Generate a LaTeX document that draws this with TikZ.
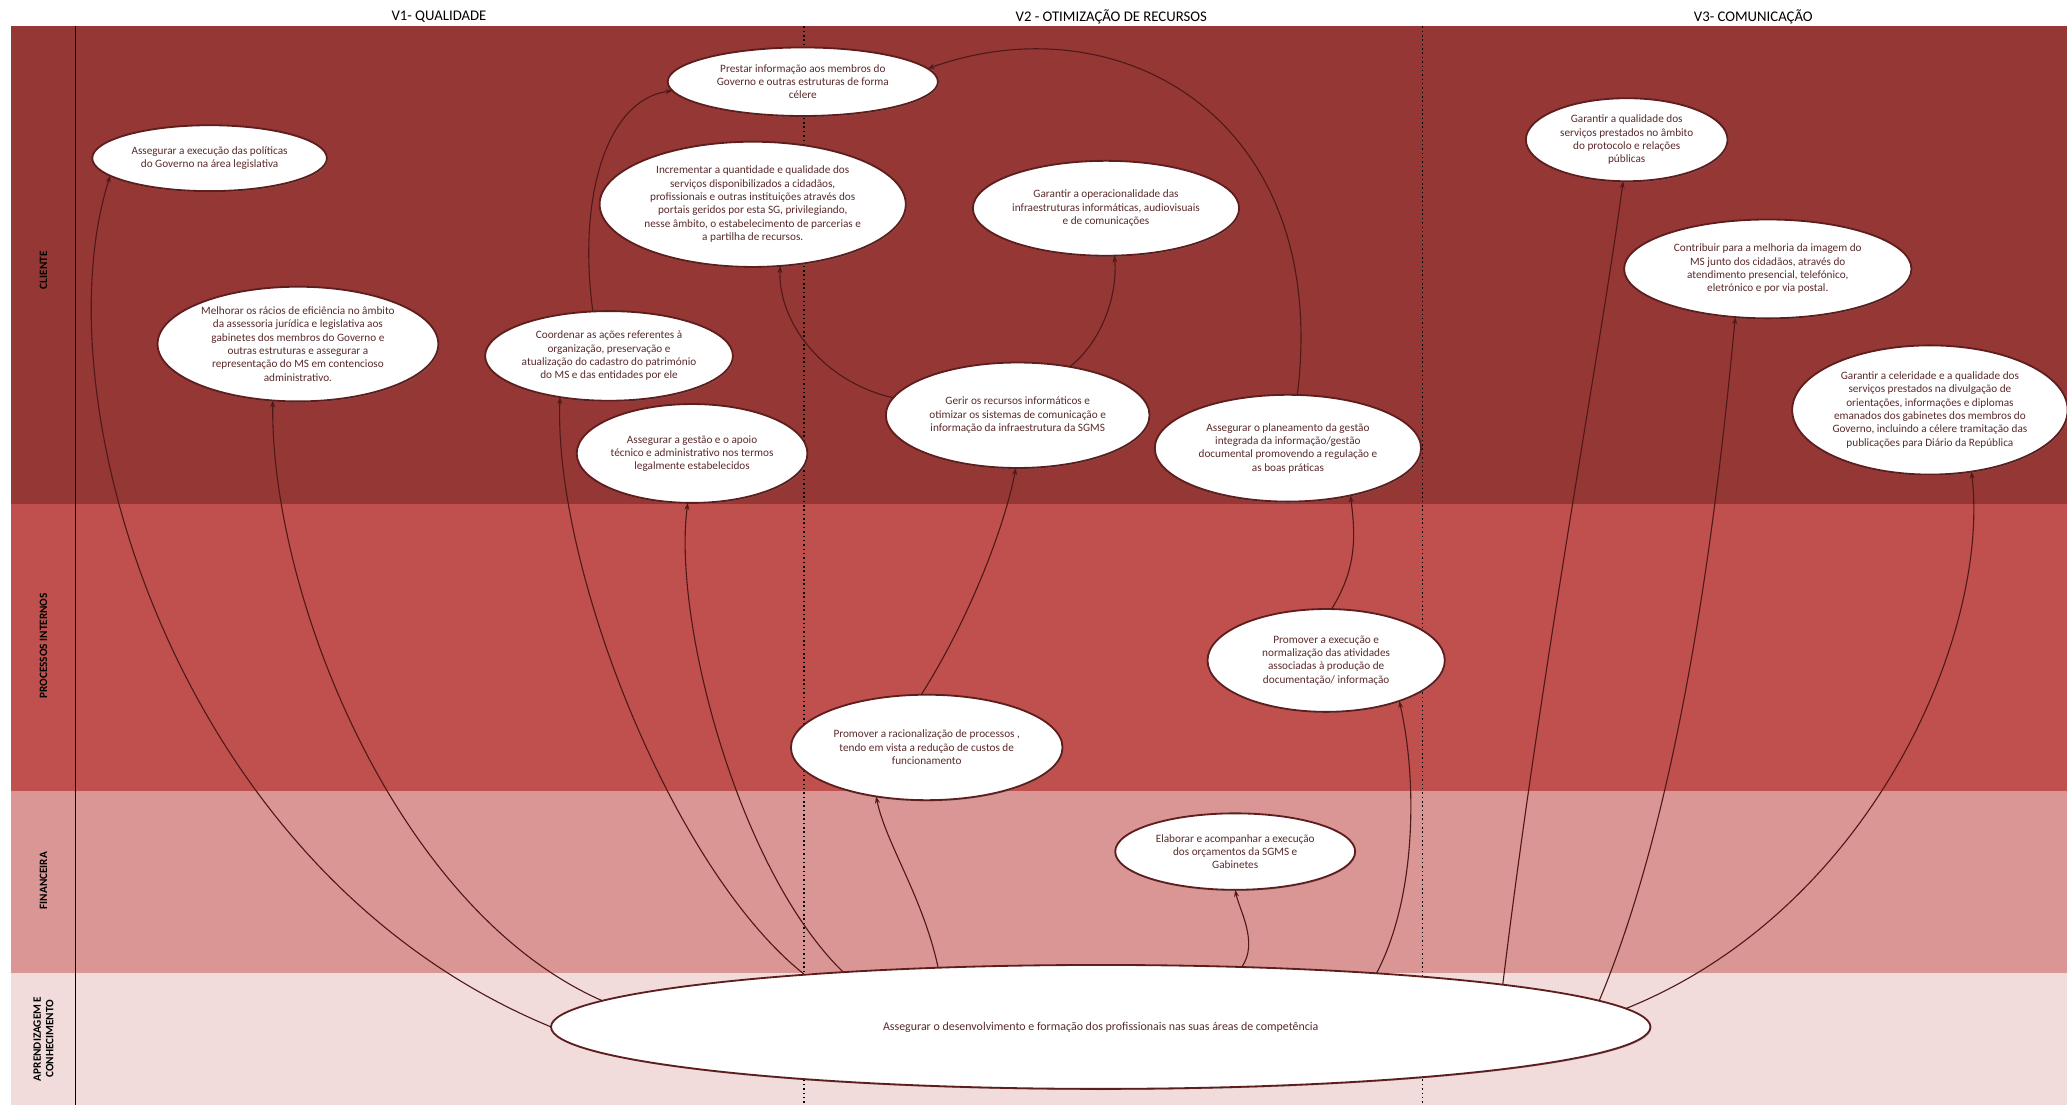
\documentclass[tikz,border=0pt]{standalone}
\usepackage{fontspec}
\setmainfont{Carlito}
\usetikzlibrary{shapes.geometric,arrows.meta,shadows}

\definecolor{cliente}{HTML}{953735}
\definecolor{processos}{HTML}{C0504D}
\definecolor{financeira}{HTML}{D99694}
\definecolor{aprendiz}{HTML}{F2DCDB}
\definecolor{rim}{HTML}{5E1E1E}
\definecolor{goaltext}{HTML}{5A2A2A}

\tikzset{
  goal/.style 2 args={shape=ellipse, draw=rim, line width=1.3pt, fill=white,
    drop shadow={shadow xshift=0.6pt, shadow yshift=-0.8pt, opacity=0.6},
    inner sep=0pt, outer sep=0pt, minimum width=#1*0.033cm, minimum height=#2*0.033cm,
    align=center, text=goaltext, font=\fontsize{8}{9.5}\selectfont},
  link/.style={draw=rim!85!black, line width=0.8pt, -{Stealth[length=5pt,width=3.5pt]}},
  zone/.style={dotted, line width=1.1pt, black},
  rowlabel/.style={rotate=90, align=center, font=\fontsize{8}{9}\selectfont\bfseries},
  header/.style={font=\fontsize{10.5}{12}\selectfont}
}

\begin{document}
\begin{tikzpicture}[x=0.033cm, y=-0.033cm]
	\useasboundingbox (0,0) rectangle (1568,838);

	% perspectivas
	\fill[cliente]    (8,20)  rectangle (1568,382);
	\fill[processos]  (8,382) rectangle (1568,600);
	\fill[financeira] (8,600) rectangle (1568,738);
	\fill[aprendiz]   (8,738) rectangle (1568,838);
	\draw[black, line width=0.8pt] (57,20) -- (57,838);
	\draw[zone] (610,20) -- (610,838);
	\draw[zone] (1079,20) -- (1079,838);

	\node[header] (v1) at (333,13)  {V1- QUALIDADE};
	\node[header] (v2) at (843,13)  {V2 - OTIMIZAÇÃO DE RECURSOS};
	\node[header] (v3) at (1330,13) {V3- COMUNICAÇÃO};

	\node[rowlabel] (lcli) at (33,205) {CLIENTE};
	\node[rowlabel] (lpro) at (33,490) {PROCESSOS INTERNOS};
	\node[rowlabel] (lfin) at (33,668) {FINANCEIRA};
	\node[rowlabel] (lapr) at (33,788) {APRENDIZAGEM E\\CONHECIMENTO};

	% objetivos
	\node[goal={178}{50}]  (assegpol)  at (159,120)  {Assegurar a execução das políticas\\do Governo na área legislativa};
	\node[goal={205}{52}]  (prestar)   at (609,62)   {Prestar informação aos membros do\\Governo e outras estruturas de forma\\célere};
	\node[goal={232}{95}]  (increm)    at (571,155)  {Incrementar a quantidade e qualidade dos\\serviços disponibilizados a cidadãos,\\profissionais e outras instituições através dos\\portais geridos por esta SG, privilegiando,\\nesse âmbito, o estabelecimento de parcerias e\\a partilha de recursos.};
	\node[goal={202}{72}]  (garop)     at (839,158)  {Garantir a operacionalidade das\\infraestruturas informáticas, audiovisuais\\e de comunicações};
	\node[goal={153}{63}]  (garqual)   at (1234,106) {Garantir a qualidade dos\\serviços prestados no âmbito\\do protocolo e relações\\públicas};
	\node[goal={218}{75}]  (contrib)   at (1341,204) {Contribuir para a melhoria da imagem do\\MS junto dos cidadãos, através do\\atendimento presencial, telefónico,\\eletrónico e por via postal.};
	\node[goal={206}{98}]  (celer)     at (1464,311) {Garantir a celeridade e a qualidade dos\\serviços prestados na divulgação de\\orientações, informações e diplomas\\emanados dos gabinetes dos membros do\\Governo, incluindo a célere tramitação das\\publicações para Diário da República};
	\node[goal={213}{87}]  (melhorar)  at (226,261)  {Melhorar os rácios de eficiência no âmbito\\da assessoria jurídica e legislativa aos\\gabinetes dos membros do Governo e\\outras estruturas e assegurar a\\representação do MS em contencioso\\administrativo.};
	\node[goal={188}{68}]  (coordenar) at (462,270)  {Coordenar as ações referentes à\\organização, preservação e\\atualização do cadastro do património\\do MS e das entidades por ele};
	\node[goal={175}{75}]  (assgest)   at (525,344)  {Assegurar a gestão e o apoio\\técnico e administrativo nos termos\\legalmente estabelecidos};
	\node[goal={200}{80}]  (gerir)     at (772,315)  {Gerir os recursos informáticos e\\otimizar os sistemas de comunicação e\\informação da infraestrutura da SGMS};
	\node[goal={202}{81}]  (planeam)   at (977,340)  {Assegurar o planeamento da gestão\\integrada da informação/gestão\\documental promovendo a regulação e\\as boas práticas};
	\node[goal={180}{78}]  (promexec)  at (1006,501) {Promover a execução e\\normalização das atividades\\associadas à produção de\\documentação/ informação};
	\node[goal={206}{80}]  (promrac)   at (703,567)  {Promover a racionalização de processos ,\\tendo em vista a redução de custos de\\funcionamento};
	\node[goal={182}{58}]  (elaborar)  at (937,646)  {Elaborar e acompanhar a execução\\dos orçamentos da SGMS e\\Gabinetes};
	\node[goal={834}{94}, font=\fontsize{8.5}{10}\selectfont] (formacao) at (835,779) {Assegurar o desenvolvimento e formação dos profissionais nas suas áreas de competência};

	% ligações
	\draw[link] (formacao.180) .. controls (130,660) and (30,300) .. (assegpol.190);
	\draw[link] (formacao.177) .. controls (300,690) and (205,450) .. (melhorar.246);
	\draw[link] (formacao.170) .. controls (510,660) and (420,430) .. (coordenar.220);
	\draw[link] (formacao.168) .. controls (560,660) and (510,470) .. (assgest.265);
	\draw[link] (formacao.160) .. controls (700,680) and (672,640) .. (promrac.224);
	\draw[link] (formacao.23)  .. controls (955,715) and (940,690) .. (elaborar.270);
	\draw[link] (formacao.11)  .. controls (1075,680) and (1075,590) .. (promexec.331);
	\draw[link] (formacao.6.3) .. controls (1170,500) and (1215,260) .. (garqual.265);
	\draw[link] (formacao.3.8) .. controls (1280,600) and (1305,360) .. (contrib.236);
	\draw[link] (formacao.2.3) .. controls (1420,690) and (1510,480) .. (celer.304);

	\draw[link] (promrac.96)  .. controls (735,470) and (762,400) .. (gerir.268);
	\draw[link] (promexec.84) .. controls (1030,430) and (1028,405) .. (planeam.323);
	\draw[link] (gerir.172)   .. controls (625,290) and (590,245) .. (increm.294);
	\draw[link] (gerir.43)    .. controls (835,260) and (848,225) .. (garop.280);
	\draw[link] (coordenar.110) .. controls (438,150) and (460,75) .. (prestar.184);
	\draw[link] (planeam.80)  .. controls (1010,90) and (850,0) .. (prestar.6);
\end{tikzpicture}
\end{document}
